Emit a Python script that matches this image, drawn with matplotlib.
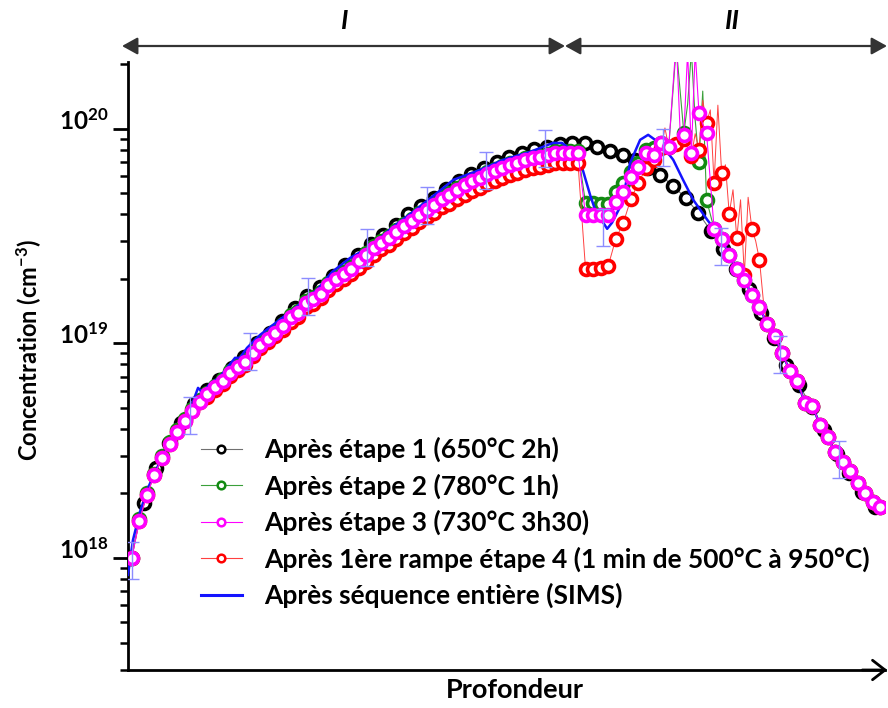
import numpy as np
import matplotlib
matplotlib.use('Agg')
import matplotlib.pyplot as plt
from matplotlib.lines import Line2D
from matplotlib.patches import FancyArrowPatch
from matplotlib.transforms import ScaledTranslation

plt.rcParams['font.family'] = ['Lato', 'DejaVu Sans']
plt.rcParams['font.weight'] = 'bold'
plt.rcParams['mathtext.fontset'] = 'custom'
plt.rcParams['mathtext.rm'] = 'Lato'
plt.rcParams['mathtext.bf'] = 'Lato:bold'
plt.rcParams['mathtext.it'] = 'Lato:italic'

UNIT = 1e18  # concentrations below are in units of 1e18 cm^-3

# ---------------- data ----------------
# depth grid (arbitrary units) of the steps 2, 3, 4 profiles
depth = np.arange(100) + 0.5
# depth grid of step 1 profile
depth_step1 = np.arange(60) * 5 / 3 + 0.4

step1 = [1.00, 1.804, 2.628, 3.437, 4.26, 5.223, 6.07, 6.757, 7.69, 8.65,
         10.05, 11.19, 12.73, 14.64, 16.65, 18.34, 20.64, 23.23, 25.86, 29.09,
         32.05, 35.68, 40.16, 43.75, 47.7, 52.5, 57.24, 61.7, 65.8, 70.2,
         74.0, 77.3, 80.7, 82.4, 85.1, 86.0, 86.0, 82.4, 78.9, 75.6,
         71.7, 65.8, 61.0, 54.2, 47.7, 40.6, 33.5, 27.6, 22.25, 17.95,
         13.87, 10.61, 7.94, 6.40, 5.06, 3.95, 3.05, 2.49, 2.03, 1.73]

step3 = [1.00, 1.487, 1.967, 2.437, 2.925, 3.40, 3.868, 4.35, 4.845, 5.337,
         5.815, 6.27, 6.69, 7.29, 7.77, 8.20, 9.03, 9.84, 10.50, 11.19,
         12.07, 13.29, 13.87, 15.45, 16.13, 17.02, 18.74, 19.98, 21.09, 22.25,
         24.24, 25.86, 27.88, 29.41, 31.03, 33.11, 35.3, 37.25, 39.73, 41.92,
         44.23, 47.17, 49.24, 51.95, 54.82, 57.24, 59.11, 61.7, 63.7, 65.8,
         67.96, 69.4, 71.7, 73.2, 74.0, 75.6, 77.3, 77.3, 77.3, 77.3,
         39.7, 39.7, 39.7, 39.7, 45.68, 50.85, 59.7, 66.5, 77.3, 75.6,
         86.0, 82.4, 260.0, 93.8, 77.3, 118.8, 95.8, 34.2, 30.7, 25.86,
         22.25, 19.77, 16.83, 14.8, 12.33, 10.84, 9.03, 7.44, 6.69, 5.28,
         5.11, 4.17, 3.66, 3.12, 2.80, 2.545, 2.237, 2.01, 1.824, 1.729]

step2 = [1.00, 1.51, 2.00, 2.47, 2.97, 3.45, 3.93, 4.42, 4.92, 5.42,
         5.90, 6.36, 6.79, 7.40, 7.89, 8.32, 9.17, 9.99, 10.66, 11.36,
         12.25, 13.49, 14.08, 15.68, 16.37, 17.28, 19.02, 20.28, 21.41, 22.58,
         24.6, 26.25, 28.3, 29.85, 31.5, 33.6, 35.83, 37.81, 40.33, 42.55,
         44.89, 47.88, 49.98, 52.73, 55.64, 58.1, 60.0, 62.63, 64.66, 66.79,
         68.98, 70.44, 72.78, 74.3, 75.11, 76.73, 78.46, 78.46, 78.46, 78.46,
         45.2, 45.2, 44.7, 44.7, 50.85, 56.0, 63.0, 69.4, 79.8, 81.5,
         86.0, 82.4, 240.0, 95.8, 230.0, 70.2, 46.7, 34.2, 30.7, 25.86,
         22.25, 19.77, 16.83, 14.8, 12.33, 10.84, 9.03, 7.44, 6.69, 5.28,
         5.11, 4.17, 3.66, 3.12, 2.80, 2.545, 2.237, 2.01, 1.824, 1.729]

step4 = [1.00, 1.487, 1.967, 2.437, 2.925, 3.40, 3.868, 4.35, 4.845, 5.337,
         5.64, 6.08, 6.49, 7.07, 7.54, 7.95, 8.76, 9.54, 10.2, 10.85,
         11.5, 12.6, 13.2, 14.7, 15.3, 16.2, 17.8, 19.0, 20.0, 21.1,
         22.5, 24.0, 25.9, 27.4, 28.9, 30.8, 32.6, 34.4, 36.7, 38.7,
         40.6, 43.0, 44.6, 47.0, 49.4, 51.5, 53.2, 55.5, 57.3, 59.2,
         61.2, 62.5, 64.5, 65.9, 66.6, 68.0, 69.6, 69.6, 69.6, 69.6,
         22.25, 22.25, 22.5, 22.97, 30.7, 36.5, 47.17, 56.0, 65.8, 71.7,
         81.5, 82.4, 85.0, 90.0, 75.0, 80.0, 106.6, 56.0, 62.4, 40.2,
         31.0, 20.8, 34.2, 24.5, 12.33, 10.84, 9.03, 7.44, 6.69, 5.28,
         5.11, 4.17, 3.66, 3.12, 2.80, 2.545, 2.237, 2.01, 1.824, 1.729]

# intermediate (unmarked) raw points of the noisy zone II
spike_depth_step2 = [74.0, 75.0, 76.0]
spike_step2 = [130.0, 110.0, 150.0]
spike_depth_step3 = [73.0, 74.0, 75.0, 76.0]
spike_step3 = [99.0, 230.0, 230.0, 105.0]
spike_depth_step4 = [71.0, 75.0, 76.0, 77.0, 78.0, 79.0, 80.0, 81.0, 82.0, 83.0, 84.0]
spike_step4 = [101.0, 95.0, 136.0, 122.6, 129.0, 68.0, 52.0, 46.7, 48.0, 30.0, 16.0]

# SIMS profile after whole sequence
sims_depth = [0.0, 0.66, 1.59, 2.65, 3.84, 5.16, 6.61, 8.2, 9.26, 9.92,
              10.7, 12.17, 14.15, 14.8, 15.74, 17.46, 19.7, 21.8, 25.0, 27.0,
              29.37, 32.0, 35.05, 37.7, 40.87, 43.0, 46.56, 49.6, 53.17, 56.2,
              57.4, 58.07, 58.86, 59.79, 61.1, 61.77, 63.36, 64.0, 65.08, 65.74,
              66.4, 67.72, 68.78, 69.7, 70.77, 72.1, 73.4, 74.74, 76.6, 77.4,
              78.5, 79.5, 80.5, 81.5, 82.5, 83.5, 84.5, 85.5, 86.5, 87.5,
              88.5, 89.5, 90.5, 91.5, 92.5, 93.5, 94.5, 95.5, 96.5, 97.5,
              98.5, 99.5, 100.1]
sims = [0.833, 1.213, 1.639, 2.12, 2.628, 3.256, 3.95, 4.9, 6.20, 5.88,
        6.40, 6.98, 8.56, 8.56, 9.53, 10.95, 12.6, 14.33, 17.76, 21.54,
        25.03, 28.18, 34.93, 41.03, 50.3, 57.8, 64.4, 71.7, 78.1, 86.0,
        86.0, 82.4, 74.0, 70.9, 49.24, 41.92, 34.2, 36.5, 43.3, 53.6,
        69.4, 88.9, 93.8, 88.9, 82.4, 71.7, 57.8, 46.7, 37.66, 34.55,
        30.7, 25.86, 22.25, 19.77, 16.83, 14.8, 12.33, 10.84, 9.03, 7.44,
        6.69, 5.28, 5.11, 4.17, 3.66, 3.12, 2.80, 2.545, 2.237, 2.01,
        1.824, 1.729, 1.65]

# SIMS error bars
err_depth = [0.53, 8.2, 16.1, 23.8, 31.6, 39.6, 47.4, 55.2, 62.8, 70.8, 78.4, 86.2, 94.0]
err_conc = [0.97, 4.59, 9.18, 16.48, 27.9, 43.75, 63.7, 80.7, 34.55, 82.0, 28.3, 8.84, 2.86]
err_factor = 1.22

labels = ['Après étape 1 (650°C 2h)',
          'Après étape 2 (780°C 1h)',
          'Après étape 3 (730°C 3h30)',
          'Après 1ère rampe étape 4 (1 min de 500°C à 950°C)',
          'Après séquence entière (SIMS)']
zone_labels = ['I', 'II']

# ---------------- figure ----------------
fig = plt.figure(figsize=(8.88, 7.08), dpi=100)
ax = fig.add_axes([128 / 888, 38 / 708, 757 / 888, 608 / 708])
ax.set_yscale('log')
ax.set_xlim(0, 100.1)
ax.set_ylim(3.0e17, 2.05e20)


def trace(xm, ym, xs, ys):
    x = np.concatenate([np.asarray(xm, float), np.asarray(xs, float)])
    y = np.concatenate([np.asarray(ym, float), np.asarray(ys, float)])
    o = np.argsort(x, kind='stable')
    return x[o], y[o] * UNIT


mk = dict(marker='o', ms=8.6, mfc='white', mew=2.6, linestyle='none')

# step 1
ax.plot(depth_step1, np.array(step1) * UNIT, color='#707070', lw=0.8, zorder=2)
ax.plot(depth_step1, np.array(step1) * UNIT, mec='black', zorder=2.1, **mk)
# step 2
tx, ty = trace(depth, step2, spike_depth_step2, spike_step2)
ax.plot(tx, ty, color='#3aa03a', lw=0.8, zorder=3)
ax.plot(depth, np.array(step2) * UNIT, mec='#138a13', zorder=3.1, **mk)
# SIMS
ax.plot(sims_depth, np.array(sims) * UNIT, color='#1414ff', lw=1.8, zorder=3.5)
# step 4
tx, ty = trace(depth, step4, spike_depth_step4, spike_step4)
ax.plot(tx, ty, color='#ff4040', lw=0.7, zorder=4)
ax.plot(depth, np.array(step4) * UNIT, mec='#ff0000', zorder=4.1, **mk)
# step 3
tx, ty = trace(depth, step3, spike_depth_step3, spike_step3)
ax.plot(tx, ty, color='#ff00ff', lw=0.8, zorder=5)
ax.plot(depth, np.array(step3) * UNIT, mec='#ff00ff', zorder=5.1, **mk)

# error bars
ec = np.array(err_conc) * UNIT
ax.errorbar(err_depth, ec, yerr=[ec - ec / err_factor, ec * err_factor - ec],
            fmt='none', ecolor='#8c8cff', elinewidth=1.0, capsize=5,
            capthick=1.0, zorder=6)

# axes styling
for s in ['top', 'right']:
    ax.spines[s].set_visible(False)
for s in ['left', 'bottom']:
    ax.spines[s].set_linewidth(2)
ax.set_xticks([])
ax.set_yticks([1e18, 1e19, 1e20])
ax.set_yticklabels([r'$\mathbf{10^{18}}$', r'$\mathbf{10^{19}}$', r'$\mathbf{10^{20}}$'])
ax.tick_params(axis='y', which='major', length=11, width=2, labelsize=17.5, pad=3)
ax.tick_params(axis='y', which='minor', length=6, width=1.8)
for lab in ax.get_yticklabels():
    lab.set_transform(lab.get_transform() + ScaledTranslation(0, 7 / 72, fig.dpi_scale_trans))

ax.set_ylabel(r'Concentration (cm$^{\mathbf{-3}}$)', fontsize=17, fontweight='bold')
ax.yaxis.set_label_coords(-(128 - 44) / 757, (670 - 350) / 608)
ax.set_xlabel('Profondeur', fontsize=19.5, fontweight='bold')
ax.xaxis.set_label_coords((515 - 128) / 757, -(678 - 670) / 608)
ax.xaxis.label.set_va('top')

# x axis open arrow head
ax.annotate('', xy=(1.003, 0), xytext=(0.97, 0), xycoords='axes fraction',
            arrowprops=dict(arrowstyle='->,head_length=0.45,head_width=0.35',
                            lw=2, color='black', mutation_scale=20,
                            shrinkA=0, shrinkB=0),
            annotation_clip=False)

# legend
handles = [Line2D([], [], color='#707070', lw=0.8, marker='o', ms=5.5, mfc='white', mec='black', mew=1.8),
           Line2D([], [], color='#3aa03a', lw=0.8, marker='o', ms=5.5, mfc='white', mec='#138a13', mew=1.8),
           Line2D([], [], color='#ff00ff', lw=0.8, marker='o', ms=5.5, mfc='white', mec='#ff00ff', mew=1.8),
           Line2D([], [], color='#ff4040', lw=0.8, marker='o', ms=5.5, mfc='white', mec='#ff0000', mew=1.8),
           Line2D([], [], color='#1414ff', lw=2.2)]
leg = ax.legend(handles, labels, loc='upper left',
                bbox_to_anchor=(201 / 888, 1 - 437 / 708), bbox_transform=fig.transFigure,
                frameon=False, prop=dict(size=19, weight='bold'),
                handlelength=1.55, handletextpad=0.83, labelspacing=0.42,
                borderpad=0, borderaxespad=0)

# zone arrows on top
ya = 1 - 46 / 708
for x0, x1 in [(122, 565), (565, 887)]:
    fig.add_artist(FancyArrowPatch((x0 / 888, ya), (x1 / 888, ya), transform=fig.transFigure,
                                   arrowstyle='<|-|>,head_length=0.47,head_width=0.26',
                                   mutation_scale=20, lw=1.6, color='#333333',
                                   shrinkA=0, shrinkB=0))
for xl, t in zip([345, 732], zone_labels):
    fig.text(xl / 888, 1 - 21 / 708, t, ha='center', va='center', fontsize=19,
             fontweight='bold', style='italic')

fig.savefig('out.png', dpi=100)
